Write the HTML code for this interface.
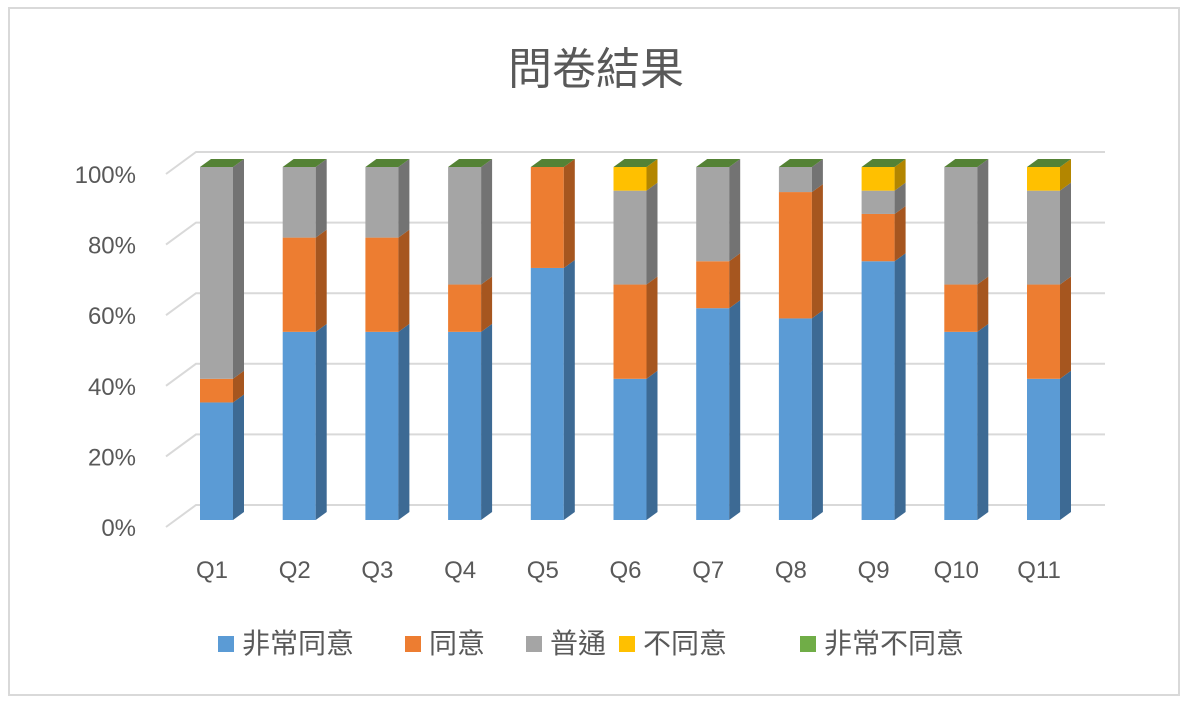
<!DOCTYPE html>
<html><head><meta charset="utf-8"><style>
body{margin:0;background:#fff}
text{font-family:"Liberation Sans","Noto Sans CJK TC",sans-serif}
</style></head><body>
<svg id="chart" width="1188" height="705" xmlns="http://www.w3.org/2000/svg">
<rect x="9" y="8" width="1170" height="687" fill="#fff" stroke="#d9d9d9" stroke-width="2"/>
<text x="596" y="84" text-anchor="middle" font-size="44" fill="#595959">問卷結果</text>
<g id="grid"></g><g id="bars"></g><g id="labels"></g>
<g id="legend"></g>
</svg>
<script>
const categories=["Q1","Q2","Q3","Q4","Q5","Q6","Q7","Q8","Q9","Q10","Q11"];
const seriesNames=["非常同意","同意","普通","不同意","非常不同意"];
const s1=[33.3,53.3,53.3,53.3,71.4,40,60,57.1,73.3,53.3,40];
const s2=[6.7,26.7,26.7,13.4,28.6,26.7,13.3,35.8,13.4,13.4,26.7];
const s3=[60,20,20,33.3,0,26.6,26.7,7.1,6.6,33.3,26.6];
const s4=[0,0,0,0,0,6.7,0,0,6.7,0,6.7];
const s5=[0,0,0,0,0,0,0,0,0,0,0];
const yTicks=[0,20,40,60,80,100];
const series=[s1,s2,s3,s4,s5];
const frontC=["#5b9bd5","#ed7d31","#a5a5a5","#ffc000","#70ad47"];
const sideC=["#3d6a94","#a6561f","#737373","#b38600","#4e7a30"];
const topC=["#5b9bd5","#ed7d31","#a5a5a5","#ffc000","#548235"];
const NS="http://www.w3.org/2000/svg";
function mk(tag,attrs,parent){const e=document.createElementNS(NS,tag);for(const k in attrs)e.setAttribute(k,attrs[k]);document.getElementById(parent).appendChild(e);return e;}
const yS=v=>520-v*3.53;
const xS=i=>200+i*82.7;
const W=33,DX=11,DY=8;
yTicks.forEach(t=>{
 const yb=505-t*3.53, yf=527-t*3.53;
 const l=mk('polyline',{points:`166,${yf} 196,${yb} 1105,${yb}`,fill:'none',stroke:'#d9d9d9','stroke-width':2},'grid');
 
 
 const tx=mk('text',{x:136,y:yf+9,'text-anchor':'end','font-size':24,fill:'#595959'},'labels');
 tx.textContent=t+'%';
 
 
});
categories.forEach((c,i)=>{
 let cum=0;const x0=xS(i);
 series.forEach((s,k)=>{
  const v=s[i];const y0=yS(cum),y1=yS(cum+v);cum+=v;
  if(v>0){
   const r=mk('rect',{x:x0,y:y1,width:W,height:y0-y1,fill:frontC[k]},'bars');
   
   
   const p=mk('polygon',{points:`${x0+W},${y0} ${x0+W+DX},${y0-DY} ${x0+W+DX},${y1-DY} ${x0+W},${y1}`,fill:sideC[k]},'bars');
   
   
  }
 });
 const yt=yS(cum);
 const tp=mk('polygon',{points:`${x0},${yt} ${x0+DX},${yt-DY} ${x0+W+DX},${yt-DY} ${x0+W},${yt}`,fill:topC[4]},'bars');
 
 
 const t=mk('text',{x:x0+12,y:578,'text-anchor':'middle','font-size':24,fill:'#595959'},'labels');
 t.textContent=c;
 
 
});
const lx=[218,405,526,619,800];
seriesNames.forEach((n,k)=>{
 const r=mk('rect',{x:lx[k],y:636,width:16,height:16,fill:frontC[k]},'legend');
 
 
 const t=mk('text',{x:lx[k]+24,y:653,'font-size':28,fill:'#595959'},'legend');
 t.textContent=n;
 
 
});
</script>
</body></html>
